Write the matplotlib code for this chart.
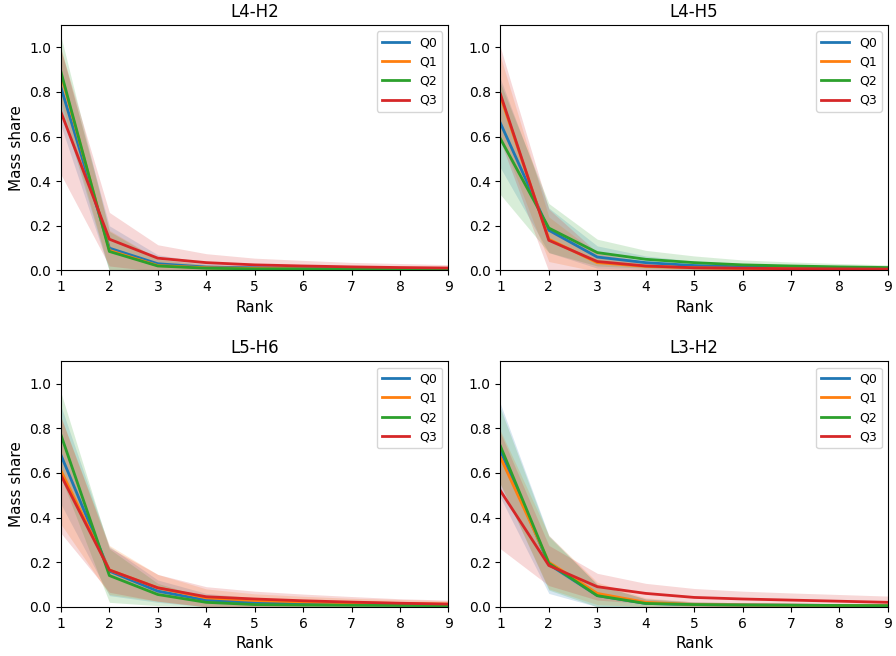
import numpy as np
import matplotlib
matplotlib.use("Agg")
import matplotlib.pyplot as plt

ranks = np.arange(1, 10)
quarts = ["Q0", "Q1", "Q2", "Q3"]
colors = ["#1f77b4", "#ff7f0e", "#2ca02c", "#d62728"]
panels = ["L4-H2", "L4-H5", "L5-H6", "L3-H2"]

# mean curves per panel, per quartile
l4h2_mean = [
    [0.82, 0.10, 0.03, 0.015, 0.012, 0.010, 0.008, 0.007, 0.006],
    [0.88, 0.09, 0.022, 0.012, 0.009, 0.007, 0.006, 0.005, 0.005],
    [0.89, 0.085, 0.02, 0.01, 0.007, 0.006, 0.005, 0.004, 0.004],
    [0.71, 0.14, 0.055, 0.035, 0.025, 0.02, 0.016, 0.013, 0.011],
]
l4h2_std = [
    [0.17, 0.10, 0.04, 0.02, 0.015, 0.012, 0.010, 0.009, 0.008],
    [0.12, 0.09, 0.03, 0.015, 0.012, 0.010, 0.009, 0.008, 0.007],
    [0.16, 0.09, 0.03, 0.015, 0.010, 0.009, 0.008, 0.007, 0.006],
    [0.28, 0.12, 0.06, 0.04, 0.03, 0.025, 0.02, 0.018, 0.015],
]
l4h5_mean = [
    [0.66, 0.18, 0.06, 0.035, 0.022, 0.016, 0.013, 0.011, 0.009],
    [0.78, 0.14, 0.035, 0.018, 0.012, 0.009, 0.008, 0.007, 0.006],
    [0.59, 0.19, 0.08, 0.05, 0.035, 0.025, 0.02, 0.016, 0.013],
    [0.79, 0.135, 0.04, 0.02, 0.012, 0.01, 0.008, 0.007, 0.006],
]
l4h5_std = [
    [0.20, 0.10, 0.05, 0.03, 0.02, 0.015, 0.012, 0.01, 0.009],
    [0.18, 0.10, 0.04, 0.02, 0.015, 0.012, 0.01, 0.009, 0.008],
    [0.25, 0.11, 0.06, 0.04, 0.03, 0.022, 0.018, 0.015, 0.012],
    [0.21, 0.14, 0.04, 0.02, 0.015, 0.012, 0.01, 0.009, 0.008],
]
l5h6_mean = [
    [0.68, 0.16, 0.07, 0.03, 0.02, 0.016, 0.013, 0.011, 0.009],
    [0.61, 0.165, 0.085, 0.04, 0.028, 0.022, 0.018, 0.015, 0.012],
    [0.77, 0.14, 0.055, 0.02, 0.01, 0.008, 0.007, 0.006, 0.005],
    [0.59, 0.165, 0.085, 0.045, 0.035, 0.027, 0.021, 0.016, 0.012],
]
l5h6_std = [
    [0.22, 0.11, 0.05, 0.03, 0.02, 0.015, 0.012, 0.01, 0.009],
    [0.24, 0.11, 0.06, 0.04, 0.03, 0.025, 0.02, 0.018, 0.015],
    [0.19, 0.12, 0.05, 0.02, 0.015, 0.012, 0.01, 0.009, 0.008],
    [0.26, 0.10, 0.06, 0.045, 0.035, 0.03, 0.025, 0.02, 0.018],
]
l3h2_mean = [
    [0.70, 0.19, 0.05, 0.015, 0.01, 0.008, 0.007, 0.006, 0.005],
    [0.67, 0.20, 0.06, 0.02, 0.01, 0.008, 0.007, 0.006, 0.005],
    [0.72, 0.195, 0.05, 0.015, 0.01, 0.008, 0.007, 0.006, 0.005],
    [0.52, 0.185, 0.09, 0.06, 0.042, 0.035, 0.03, 0.025, 0.02],
]
l3h2_std = [
    [0.21, 0.13, 0.05, 0.02, 0.012, 0.01, 0.009, 0.008, 0.007],
    [0.12, 0.12, 0.05, 0.02, 0.012, 0.01, 0.009, 0.008, 0.007],
    [0.17, 0.12, 0.05, 0.02, 0.012, 0.01, 0.009, 0.008, 0.007],
    [0.26, 0.09, 0.06, 0.045, 0.04, 0.035, 0.032, 0.03, 0.028],
]

means = [l4h2_mean, l4h5_mean, l5h6_mean, l3h2_mean]
stds = [l4h2_std, l4h5_std, l5h6_std, l3h2_std]

fig, axes = plt.subplots(2, 2, figsize=(8.96, 6.56), dpi=100)
plt.subplots_adjust(left=0.068, right=0.991, top=0.962, bottom=0.075,
                    wspace=0.134, hspace=0.37)

for k, ax in enumerate(axes.flat):
    for q in range(4):
        m = np.array(means[k][q])
        s = np.array(stds[k][q])
        ax.plot(ranks, m, color=colors[q], lw=2, label=quarts[q])
        ax.fill_between(ranks, m - s, m + s, color=colors[q], alpha=0.18,
                        linewidth=0)
    ax.set_xlim(1, 9)
    ax.set_ylim(0, 1.1)
    ax.set_xticks(ranks)
    ax.set_title(panels[k], fontsize=12)
    ax.set_xlabel("Rank", fontsize=11)
    if k % 2 == 0:
        ax.set_ylabel("Mass share", fontsize=11)
    ax.legend(loc="upper right", fontsize=9, handlelength=2.2)

fig.savefig("out.png")
